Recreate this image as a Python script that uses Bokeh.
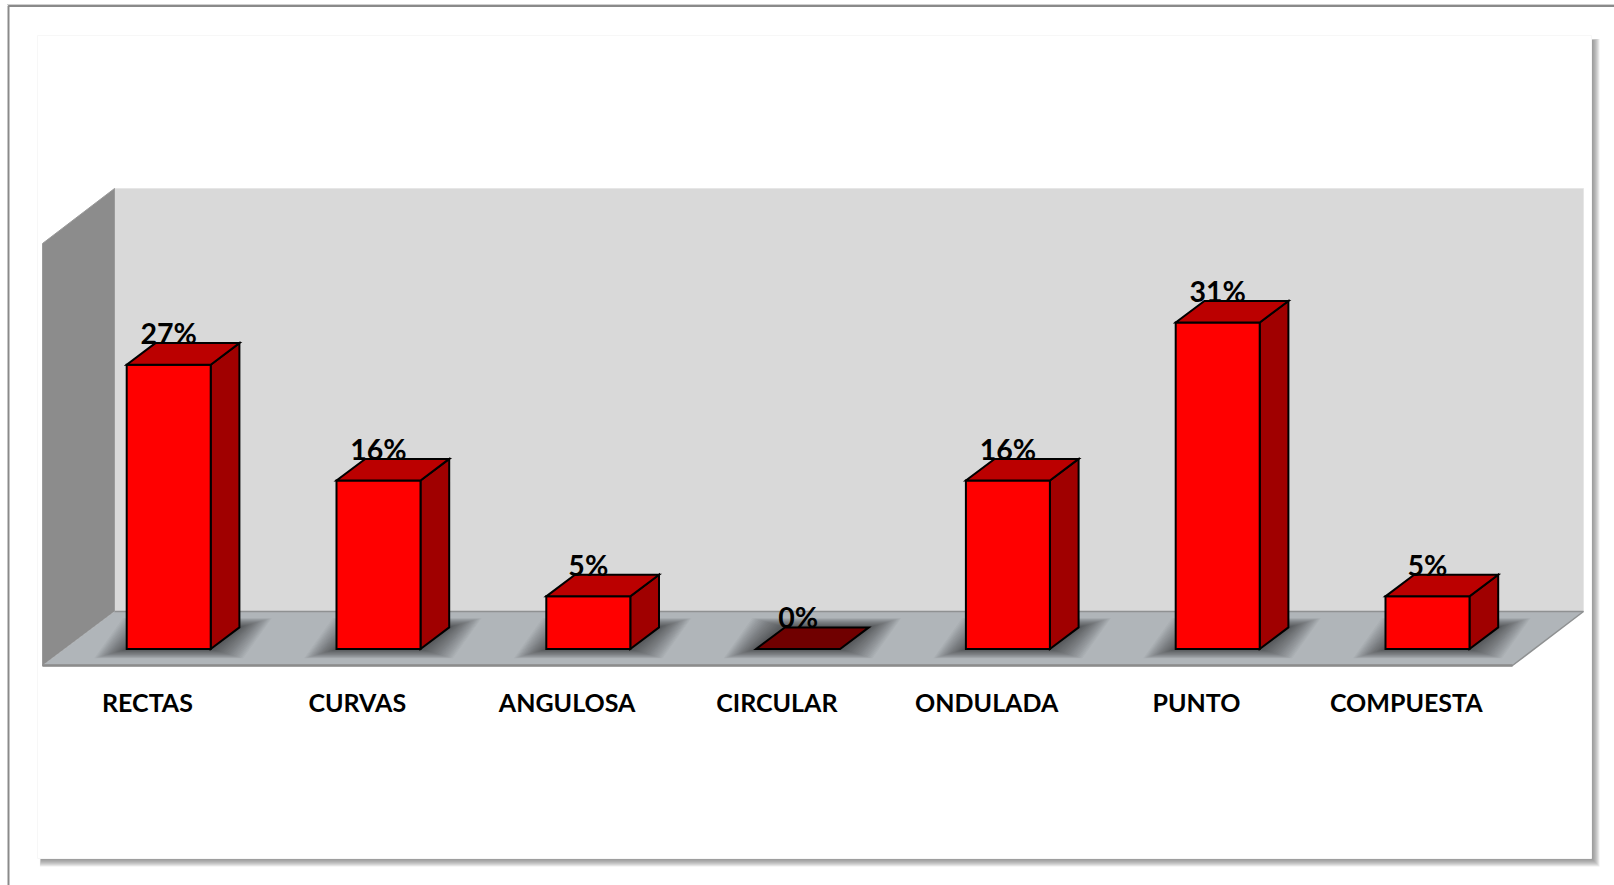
from bokeh.plotting import figure
from bokeh.models import Range1d, LinearAxis, FixedTicker
from bokeh.core.properties import value
from bokeh.embed import file_html
from bokeh.resources import INLINE

categories = ["RECTAS", "CURVAS", "ANGULOSA", "CIRCULAR", "ONDULADA", "PUNTO", "COMPUESTA"]
values = [27, 16, 5, 0, 16, 31, 5]
labels = ["27%", "16%", "5%", "0%", "16%", "31%", "5%"]

FONT = "Lato"
STEP = 209.8      # px per category
UNIT = 10.53      # px per percentage point
X0 = 147.0        # page px of first category label centre
Y0 = 648.5        # page px of value 0


def X(px):
    return (px - X0) / STEP


def Y(py):
    return (Y0 - py) / UNIT


BAR_OFF = 21.2 / STEP    # bar centre is right of the label centre
BAR_W = 84 / STEP
DX = 28.7 / STEP
DY = 21.6 / UNIT

p = figure(width=1614, height=885, output_backend="svg", toolbar_location=None,
           x_range=Range1d(X(0), X(1614)), y_range=Range1d(Y(885), Y(0)),
           x_axis_location="below", y_axis_location=None, min_border=0,
           outline_line_color=None, background_fill_color="white",
           border_fill_color="white")
p.margin = (0, 0, 0, 0)
p.grid.visible = False

# outer frame
p.line([X(8), X(8), X(1614)], [Y(885), Y(5.5), Y(5.5)], line_color="#8a8a8a", line_width=2)
p.line([X(6.5), X(1614)], [Y(4), Y(4)], line_color="#cfcfcf", line_width=1)

# panel with soft shadow
PL, PR, PT, PB = 37, 1591, 35, 858
for i in range(8, 0, -1):
    p.patch([X(PL + 4 - i * 0.2), X(PR + i), X(PR + i), X(PL + 4 - i * 0.2)],
            [Y(PT + 5 - i * 0.2), Y(PT + 5 - i * 0.2), Y(PB + i), Y(PB + i)],
            fill_color="#707070", fill_alpha=0.13, line_color=None)
p.patch([X(PL), X(PR), X(PR), X(PL)], [Y(PT), Y(PT), Y(PB), Y(PB)],
        fill_color="white", line_color="#f7f7f7", line_width=1)

# 3-D walls and floor
WL, WR, WT, WB = 114, 1583, 188, 611
FL, FR, FB = 42, 1512, 665
p.patch([X(WL), X(WR), X(WR), X(WL)], [Y(WT), Y(WT), Y(WB), Y(WB)],
        fill_color="#d9d9d9", line_color="#e6e6e6", line_width=1)
p.patch([X(FL), X(WL), X(WL), X(FL)], [Y(243), Y(WT), Y(WB), Y(FB)],
        fill_color="#8c8c8c", line_color="#9a9a9a", line_width=1)
p.patch([X(FL), X(WL), X(WR), X(FR)], [Y(FB), Y(WB), Y(WB), Y(FB)],
        fill_color="#b0b5b9", line_color=None)
p.line([X(WL), X(WR), X(FR), X(FL)], [Y(WB), Y(WB), Y(FB), Y(FB)],
       line_color="#8f9192", line_width=1.5)
p.line([X(FR), X(FL)], [Y(FB), Y(FB)], line_color="#8c8c8c", line_width=2.5)

# bars
for i, v in enumerate(values):
    c = i + BAR_OFF
    l, r = c - BAR_W / 2, c + BAR_W / 2
    # floor shadow: stacked, growing footprints for a soft edge
    for k in range(26, 0, -1):
        ex, ey = k * 1.25 / STEP, k * 0.36 / UNIT
        p.patch([l - ex, r + ex, r + DX + ex, l + DX - ex],
                [-ey, -ey, DY + ey, DY + ey],
                fill_color="#1e2226", fill_alpha=0.033, line_color=None)
    top_colour = "#bb0000" if v > 0 else "#700000"
    if v > 0:
        p.patch([r, r + DX, r + DX, r], [0, DY, v + DY, v],
                fill_color="#a00000", line_color="black", line_width=2, line_join="miter")
        p.patch([l, r, r, l], [0, 0, v, v],
                fill_color="#ff0000", line_color="black", line_width=2, line_join="miter")
    p.patch([l, r, r + DX, l + DX], [v, v, v + DY, v + DY],
            fill_color=top_colour, line_color="black", line_width=2, line_join="miter")

# data labels
p.text(x=[i + BAR_OFF for i in range(len(values))],
       y=[v + DY + 10 / UNIT for v in values], text=labels,
       text_align="center", text_baseline="alphabetic",
       text_font=value(FONT), text_font_style="bold", text_font_size="28.5px", text_color="black")

# category axis
p.xaxis.ticker = FixedTicker(ticks=list(range(len(categories))))
p.xaxis.major_label_overrides = {i: c for i, c in enumerate(categories)}
p.xaxis.fixed_location = Y(680)
p.xaxis.axis_line_color = None
p.xaxis.major_tick_line_color = None
p.xaxis.minor_tick_line_color = None
p.xaxis.major_label_standoff = 0
p.xaxis.major_label_text_font = FONT
p.xaxis.major_label_text_font_style = "bold"
p.xaxis.major_label_text_font_size = "25px"
p.xaxis.major_label_text_color = "black"

open("out.html", "w").write(file_html(p, INLINE))
